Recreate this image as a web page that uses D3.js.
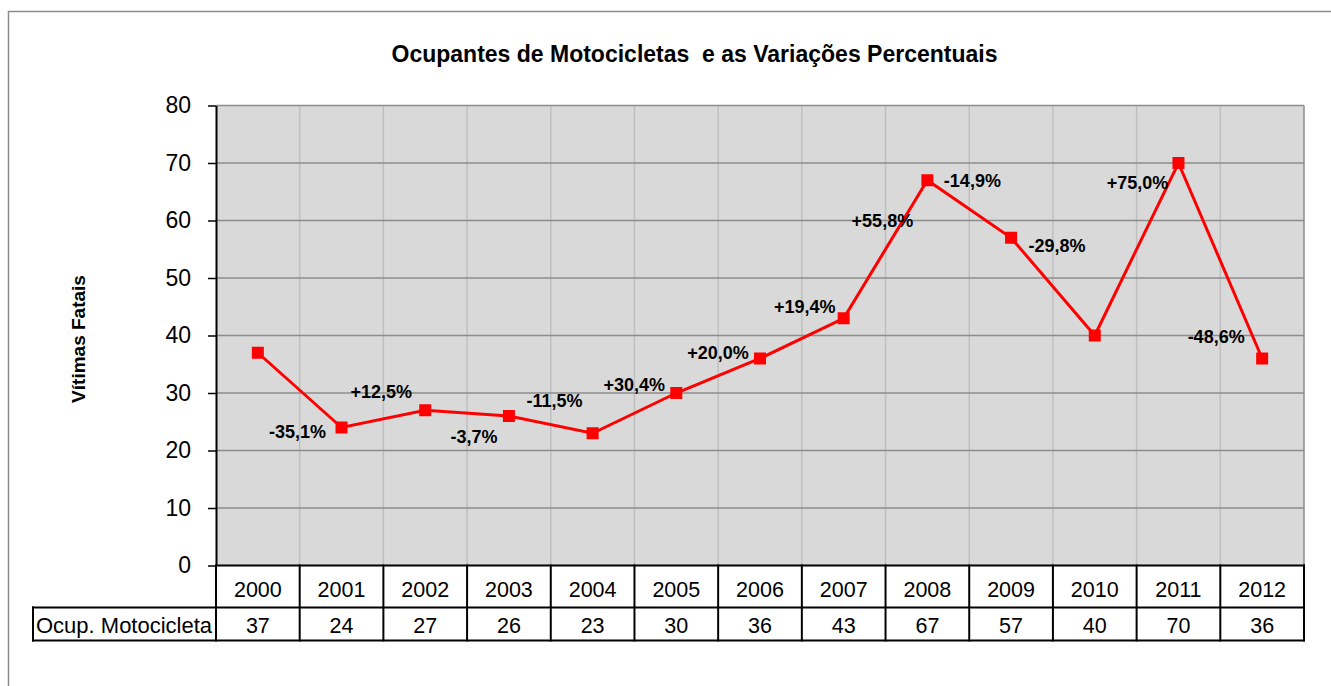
<!DOCTYPE html>
<html>
<head>
<meta charset="utf-8">
<script src="https://cdn.jsdelivr.net/npm/d3@7"></script>
<style>
  body { margin: 0; background: #fff; }
  svg { display: block; font-family: Arial, "Liberation Sans", sans-serif; }
</style>
</head>
<body>
<svg id="chart" width="1331" height="686"></svg>
<script>
/*Chart data*/
var years = ["2000", "2001", "2002", "2003", "2004", "2005", "2006", "2007", "2008", "2009", "2010", "2011", "2012"];
var victims = [37, 24, 27, 26, 23, 30, 36, 43, 67, 57, 40, 70, 36];
var changes = [null, "-35,1%", "+12,5%", "-3,7%", "-11,5%", "+30,4%", "+20,0%", "+19,4%", "+55,8%", "-14,9%", "-29,8%", "+75,0%", "-48,6%"];
var yTicks = [0, 10, 20, 30, 40, 50, 60, 70, 80];
var seriesName = "Ocup. Motocicleta";
var title = "Ocupantes de Motocicletas  e as Variações Percentuais";
var yTitle = "Vítimas Fatais";

/*Where each change label sits: point it hangs on, and pixel offset*/
var labelAnchor = [null, 1, 2, 3, 4, 5, 6, 7, 8, 8, 9, 11, 12];
var labelOffset = [null, [-44, 4], [-44, -19], [-35, 21], [-38, -33], [-42, -8], [-42, -6],
                   [-39, -12], [-45, 40], [45, 0], [46, 8], [-41, 20], [-46, -22]];

var svg = d3.select("#chart");
var plotLeft = 216, plotRight = 1304, plotTop = 105.5, plotBottom = 565.5;
var row1 = 607.5, row2 = 640.5, tableLeft = 33;

var x = d3.scaleBand().domain(years).range([plotLeft, plotRight]);
var y = d3.scaleLinear().domain([0, 80]).range([plotBottom, plotTop]);

/*Outer frame*/
svg.append("rect")
    .attr("x", 8.5).attr("y", 11.5)
    .attr("width", 1400).attr("height", 800)
    .attr("fill", "none").attr("stroke", "#8c8c8c").attr("stroke-width", 1.5);

/*Title*/
svg.append("text")
    .attr("x", 694.5).attr("y", 62)
    .attr("text-anchor", "middle")
    .style("font-size", "23px").style("font-weight", "bold")
    .style("white-space", "pre")
    .text(title);

/*Plot background*/
svg.append("rect")
    .attr("x", plotLeft).attr("y", plotTop)
    .attr("width", plotRight - plotLeft).attr("height", plotBottom - plotTop)
    .attr("fill", "#d9d9d9");

/*Vertical grid*/
svg.append("g").selectAll("line")
    .data(years.slice(1))
    .enter().append("line")
    .attr("x1", function(d) { return x(d); })
    .attr("x2", function(d) { return x(d); })
    .attr("y1", plotTop).attr("y2", plotBottom)
    .attr("stroke", "#bfbfbf").attr("stroke-width", 1.5);

/*Horizontal grid*/
svg.append("g").selectAll("line")
    .data(yTicks.slice(1))
    .enter().append("line")
    .attr("x1", plotLeft).attr("x2", plotRight)
    .attr("y1", function(d) { return y(d); })
    .attr("y2", function(d) { return y(d); })
    .attr("stroke", "#8c8c8c").attr("stroke-width", 1.5);

/*Right border*/
svg.append("line")
    .attr("x1", plotRight).attr("x2", plotRight)
    .attr("y1", plotTop).attr("y2", plotBottom)
    .attr("stroke", "#8c8c8c").attr("stroke-width", 1.5);

/*Y axis*/
var yAxis = svg.append("g")
    .attr("transform", "translate(" + plotLeft + ",0)")
    .call(d3.axisLeft(y).tickValues(yTicks).tickSize(8).tickPadding(17).tickSizeOuter(0));
yAxis.select(".domain").attr("stroke", "#000").attr("stroke-width", 2);
yAxis.selectAll(".tick line").attr("stroke", "#000").attr("stroke-width", 1.5);
yAxis.selectAll(".tick text")
    .attr("fill", "#000")
    .style("font-size", "23px")
    .style("font-family", "Arial, 'Liberation Sans', sans-serif");

svg.append("text")
    .attr("transform", "translate(85,339) rotate(-90)")
    .attr("text-anchor", "middle")
    .style("font-size", "19px").style("font-weight", "bold")
    .text(yTitle);

/*Data table*/
var table = svg.append("g");
var tableLines = [
    [plotLeft, plotBottom, plotRight, plotBottom],
    [tableLeft, row1, plotRight, row1],
    [tableLeft, row2, plotRight, row2],
    [tableLeft, row1, tableLeft, row2],
    [plotLeft, plotBottom, plotLeft, row2]
];
years.forEach(function(d) {
    tableLines.push([x(d) + x.bandwidth(), plotBottom, x(d) + x.bandwidth(), row2]);
});
table.selectAll("line")
    .data(tableLines)
    .enter().append("line")
    .attr("x1", function(d) { return d[0]; })
    .attr("y1", function(d) { return d[1]; })
    .attr("x2", function(d) { return d[2]; })
    .attr("y2", function(d) { return d[3]; })
    .attr("stroke", "#000").attr("stroke-width", 2)
    .attr("stroke-linecap", "square");

table.selectAll("text.year")
    .data(years)
    .enter().append("text")
    .attr("class", "year")
    .attr("x", function(d) { return x(d) + x.bandwidth() / 2; })
    .attr("y", 597)
    .attr("text-anchor", "middle")
    .style("font-size", "21.5px")
    .text(function(d) { return d; });

table.selectAll("text.value")
    .data(victims)
    .enter().append("text")
    .attr("class", "value")
    .attr("x", function(d, i) { return x(years[i]) + x.bandwidth() / 2; })
    .attr("y", 633)
    .attr("text-anchor", "middle")
    .style("font-size", "21.5px")
    .text(function(d) { return d; });

table.append("text")
    .attr("x", tableLeft + 3).attr("y", 633)
    .style("font-size", "22px")
    .text(seriesName);

/*Series line*/
var line = d3.line()
    .x(function(d, i) { return x(years[i]) + x.bandwidth() / 2; })
    .y(function(d) { return y(d); });

svg.append("path")
    .datum(victims)
    .attr("d", line)
    .attr("fill", "none")
    .attr("stroke", "#ff0000")
    .attr("stroke-width", 3);

svg.append("g").selectAll("rect")
    .data(victims)
    .enter().append("rect")
    .attr("x", function(d, i) { return x(years[i]) + x.bandwidth() / 2 - 6; })
    .attr("y", function(d) { return y(d) - 6; })
    .attr("width", 12).attr("height", 12)
    .attr("fill", "#ff0000");

/*Change labels*/
var labelIdx = d3.range(changes.length).filter(function(k) { return changes[k] !== null; });
svg.append("g").selectAll("text")
    .data(labelIdx)
    .enter().append("text")
    .attr("x", function(k) {
        return x(years[labelAnchor[k]]) + x.bandwidth() / 2 + labelOffset[k][0];
    })
    .attr("y", function(k) {
        return y(victims[labelAnchor[k]]) + labelOffset[k][1];
    })
    .attr("dy", "0.36em")
    .attr("text-anchor", "middle")
    .style("font-size", "18px").style("font-weight", "bold")
    .text(function(k) { return changes[k]; });
</script>
</body>
</html>
